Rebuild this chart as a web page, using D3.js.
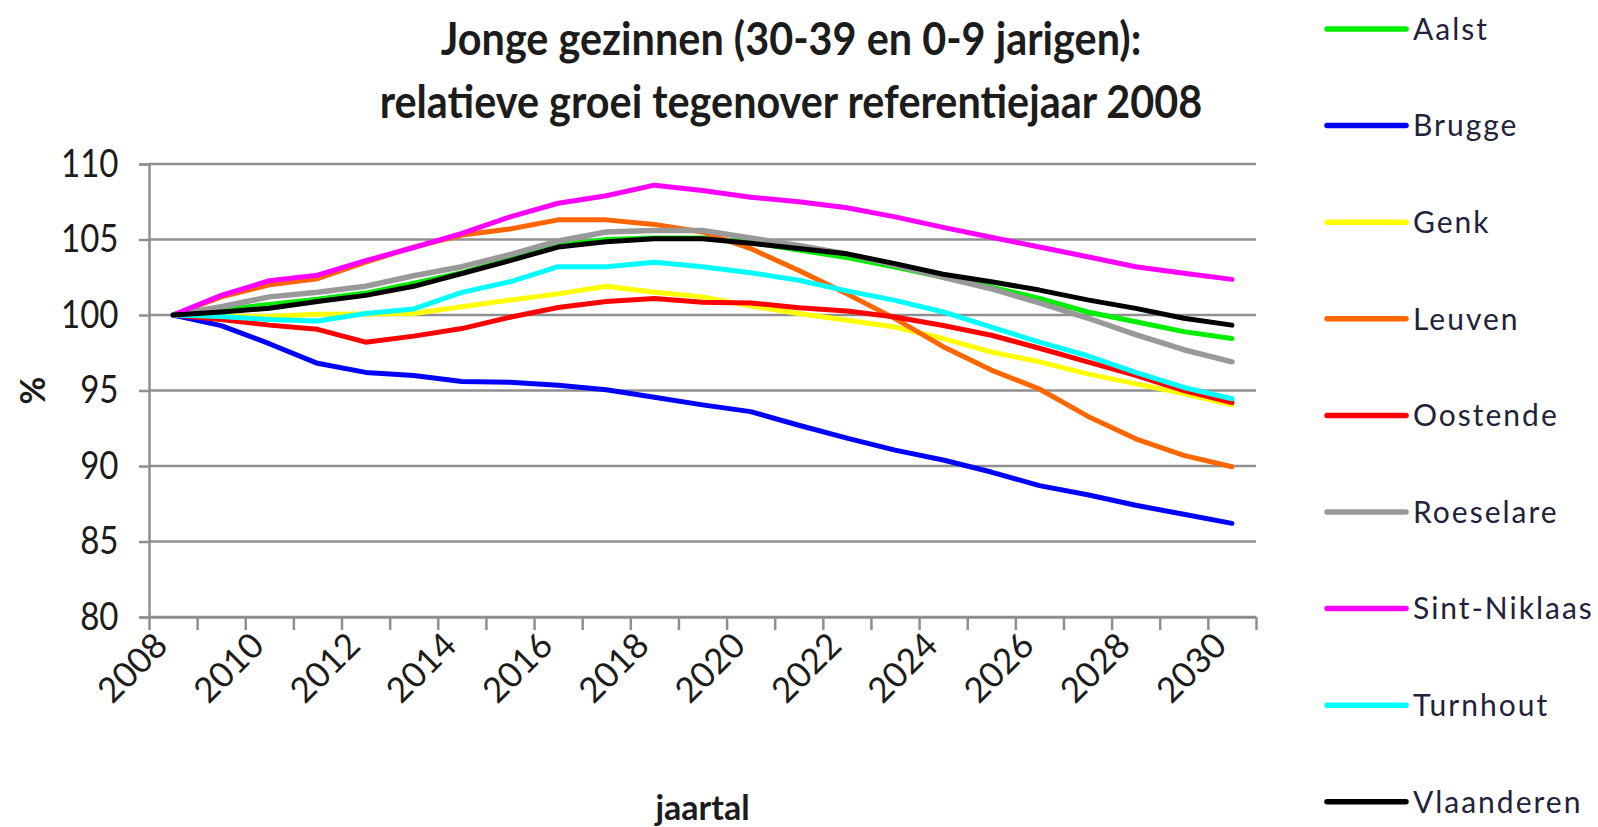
<!DOCTYPE html>
<html>
<head>
<meta charset="utf-8">
<script src="https://cdn.jsdelivr.net/npm/d3@7"></script>
<style>
  body { margin: 0; background: #fff; }
  text { font-family: Lato, "Open Sans", sans-serif; fill: #1c1c1c; }
  .title { font-weight: bold; font-size: 45px; }
  .axis_title { font-weight: bold; font-size: 34px; }
  .ylab { font-size: 38px; }
  .xlab { font-size: 35px; }
  .legend_text { font-size: 30px; letter-spacing: 2px; fill: #22223a; }
</style>
</head>
<body>
<div id="chart"></div>
<script>
// data (index = year)
var years = [2008, 2009, 2010, 2011, 2012, 2013, 2014, 2015, 2016, 2017, 2018, 2019,
             2020, 2021, 2022, 2023, 2024, 2025, 2026, 2027, 2028, 2029, 2030];
var yearLabels = [2008, 2010, 2012, 2014, 2016, 2018, 2020, 2022, 2024, 2026, 2028, 2030];
var yTicks = [80, 85, 90, 95, 100, 105, 110];

var aalst       = [100, 100.35, 100.7, 101.05, 101.45, 102.1, 102.8, 103.7, 104.6, 105.0, 105.1, 105.1,
                   104.8, 104.3, 103.8, 103.17, 102.5, 101.85, 101.1, 100.2, 99.55, 98.9, 98.45];
var brugge      = [100, 99.3, 98.1, 96.8, 96.2, 96.0, 95.6, 95.55, 95.35, 95.05, 94.55, 94.05,
                   93.6, 92.7, 91.85, 91.05, 90.4, 89.6, 88.7, 88.1, 87.4, 86.8, 86.2];
var genk        = [100, 99.93, 99.9, 100.05, 100.07, 100.1, 100.55, 101.0, 101.4, 101.9, 101.5, 101.2,
                   100.6, 100.1, 99.65, 99.2, 98.44, 97.55, 96.9, 96.1, 95.44, 94.8, 94.05];
var leuven      = [100, 101.2, 102.0, 102.4, 103.5, 104.5, 105.3, 105.7, 106.3, 106.3, 106.0, 105.5,
                   104.4, 102.95, 101.4, 99.76, 97.9, 96.35, 95.1, 93.3, 91.8, 90.7, 89.95];
var oostende    = [100, 99.7, 99.33, 99.05, 98.2, 98.6, 99.1, 99.85, 100.5, 100.9, 101.1, 100.85,
                   100.8, 100.48, 100.26, 99.87, 99.3, 98.66, 97.8, 96.9, 96.0, 95.0, 94.2];
var roeselare   = [100, 100.55, 101.2, 101.5, 101.9, 102.6, 103.2, 104.0, 104.9, 105.5, 105.6, 105.6,
                   105.1, 104.6, 104.05, 103.3, 102.5, 101.74, 100.8, 99.8, 98.7, 97.7, 96.9];
var sintNiklaas = [100, 101.3, 102.27, 102.64, 103.6, 104.47, 105.4, 106.5, 107.4, 107.9, 108.6, 108.25,
                   107.8, 107.5, 107.1, 106.5, 105.8, 105.15, 104.5, 103.86, 103.2, 102.76, 102.36];
var turnhout    = [100, 99.9, 99.7, 99.6, 100.1, 100.4, 101.5, 102.2, 103.2, 103.2, 103.5, 103.2,
                   102.8, 102.3, 101.6, 100.97, 100.2, 99.2, 98.2, 97.3, 96.2, 95.2, 94.45];
var vlaanderen  = [100, 100.2, 100.45, 100.9, 101.3, 101.9, 102.75, 103.6, 104.5, 104.85, 105.05, 105.05,
                   104.75, 104.4, 104.05, 103.4, 102.7, 102.2, 101.65, 101.0, 100.44, 99.78, 99.33];

var seriesNames  = ["Aalst", "Brugge", "Genk", "Leuven", "Oostende", "Roeselare", "Sint-Niklaas", "Turnhout", "Vlaanderen"];
var seriesValues = [aalst, brugge, genk, leuven, oostende, roeselare, sintNiklaas, turnhout, vlaanderen];
var seriesColors = ["#00ee00", "#0000ff", "#ffff00", "#ff6600", "#ff0000", "#999999", "#ff00ff", "#00ffff", "#000000"];

var width = 1598, height = 827;
var plot = { left: 149, right: 1256, top: 164, bottom: 617 };

var svg = d3.select("#chart")
    .append("svg")
        .attr("width", width)
        .attr("height", height);

// scales: years as categories, one band per year
var x = d3.scaleLinear()
    .domain([years[0] - 0.5, years[years.length - 1] + 0.5])
    .range([plot.left, plot.right]);
var y = d3.scaleLinear()
    .domain([80, 110])
    .range([plot.bottom, plot.top]);

// gridlines
svg.append("g")
    .selectAll("line")
    .data(yTicks)
    .enter().append("line")
        .attr("x1", plot.left)
        .attr("x2", plot.right)
        .attr("y1", function(d) { return y(d); })
        .attr("y2", function(d) { return y(d); })
        .style("stroke", "#8f8f8f")
        .style("stroke-width", 2.5);

// y axis
var yAxis = svg.append("g")
    .attr("transform", "translate(" + plot.left + ",0)")
    .call(d3.axisLeft(y).tickValues(yTicks).tickSize(10).tickPadding(17));
yAxis.selectAll("line, path").style("stroke", "#8f8f8f").style("stroke-width", 2.5);
yAxis.selectAll("text")
    .attr("class", "ylab")
    .style("font-family", null).style("font-size", null).attr("fill", null)
    .attr("transform", function() { return "translate(" + (-27) + ",0) scale(0.87,1) translate(" + 27 + ",0)"; })
    .attr("x", -31);

// x axis: tick marks between the categories
var boundaries = d3.range(years.length + 1).map(function(i) { return years[0] - 0.5 + i; });
var xAxis = svg.append("g")
    .attr("transform", "translate(0," + plot.bottom + ")")
    .call(d3.axisBottom(x).tickValues(boundaries).tickSize(13).tickSizeOuter(0).tickFormat(""));
xAxis.selectAll("line, path").style("stroke", "#8f8f8f").style("stroke-width", 2.5);

// rotated year labels
svg.append("g")
    .selectAll("text")
    .data(yearLabels)
    .enter().append("text")
        .attr("class", "xlab")
        .attr("transform", function(d) { return "translate(" + (x(d) - 12) + "," + (plot.bottom + 22) + ") rotate(-45)"; })
        .attr("dy", "0.35em")
        .style("text-anchor", "end")
        .text(function(d) { return d; });

//////////// draw lines ////////////////
var line = d3.line()
    .x(function(d, i) { return x(years[i]); })
    .y(function(d) { return y(d); });

seriesValues.forEach(function(vals, k) {
    svg.append("path")
        .datum(vals)
        .attr("d", line)
        .style("fill", "none")
        .style("stroke", seriesColors[k])
        .style("stroke-width", k == 5 ? 5.5 : 5)
        .style("stroke-linejoin", "round")
        .style("stroke-linecap", "round");
});

//// text labels /////////////////////////
svg.append("text")
    .attr("class", "title")
    .attr("transform", "translate(791,55) scale(0.92,1)")
    .style("text-anchor", "middle")
    .text("Jonge gezinnen (30-39 en 0-9 jarigen):");
svg.append("text")
    .attr("class", "title")
    .attr("transform", "translate(791,118) scale(0.92,1)")
    .style("text-anchor", "middle")
    .text("relatieve groei tegenover referentiejaar 2008");

svg.append("text")
    .attr("class", "axis_title")
    .attr("transform", "translate(45," + y(95) + ") rotate(-90)")
    .style("text-anchor", "middle")
    .text("%");

svg.append("text")
    .attr("class", "axis_title")
    .attr("x", (plot.left + plot.right) / 2)
    .attr("y", 820)
    .style("text-anchor", "middle")
    .text("jaartal");

// legend
var legend = svg.append("g")
    .selectAll("g")
    .data(seriesNames)
    .enter().append("g")
        .attr("transform", function(d, i) { return "translate(1327," + (29 + i * 96.6) + ")"; });
legend.append("line")
    .attr("x1", 0)
    .attr("x2", 79)
    .style("stroke", function(d, i) { return seriesColors[i]; })
    .style("stroke-width", 5.5)
    .style("stroke-linecap", "round");
legend.append("text")
    .attr("class", "legend_text")
    .attr("x", 86)
    .attr("dy", "0.36em")
    .text(function(d) { return d; });
</script>
</body>
</html>
